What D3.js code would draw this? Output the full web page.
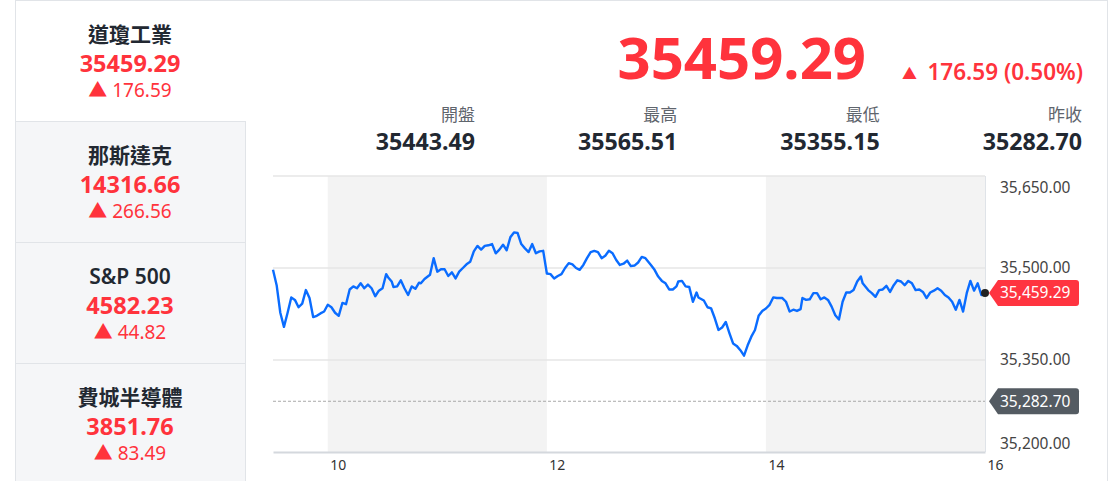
<!DOCTYPE html>
<html>
<head>
<meta charset="utf-8">
<script src="https://cdn.jsdelivr.net/npm/d3@7"></script>
<style>
  html, body { margin: 0; padding: 0; background: #fff; }
  svg { display: block; font-family: "Noto Sans", "Noto Sans CJK TC", sans-serif; }
</style>
</head>
<body>
<svg id="chart" width="1112" height="481"></svg>
<script>
// ---------- data ----------
const indexNames   = ["道瓊工業", "那斯達克", "S&P 500", "費城半導體"];
const indexValues  = ["35459.29", "14316.66", "4582.23", "3851.76"];
const indexChanges = ["176.59", "266.56", "44.82", "83.49"];

const lastPriceText = "35459.29";
const changeText    = "176.59 (0.50%)";
const statLabels = ["開盤", "最高", "最低", "昨收"];
const statValues = ["35443.49", "35565.51", "35355.15", "35282.70"];

const lastPrice = 35459.29;
const prevClose = 35282.70;

const yTicks = [35200, 35350, 35500, 35650];
const xTickHours = [10, 12, 14, 16];
const shadedBands = [["10:00", "12:00"], ["14:00", "16:00"]];

const times = [
 "09:30","09:32","09:34","09:36","09:38","09:40","09:42","09:44","09:46","09:48",
 "09:50","09:52","09:54","09:56","09:58","10:00","10:02","10:04","10:06","10:08",
 "10:10","10:12","10:14","10:16","10:18","10:20","10:22","10:24","10:26","10:28",
 "10:30","10:32","10:33","10:35","10:36","10:38","10:40","10:42","10:44","10:46",
 "10:48","10:50","10:51","10:53","10:56","10:58","11:00","11:02","11:04","11:06",
 "11:08","11:10","11:12","11:14","11:16","11:18","11:20","11:22","11:24","11:26",
 "11:28","11:30","11:32","11:34","11:36","11:38","11:40","11:42","11:44","11:46",
 "11:48","11:50","11:52","11:54","11:56","11:58","12:00","12:02","12:04","12:06",
 "12:08","12:10","12:12","12:14","12:16","12:18","12:20","12:22","12:24","12:26",
 "12:28","12:30","12:32","12:34","12:36","12:38","12:40","12:42","12:44","12:46",
 "12:48","12:50","12:52","12:54","12:57","12:59","13:01","13:03","13:05","13:07",
 "13:09","13:11","13:12","13:14","13:16","13:18","13:20","13:22","13:23","13:26",
 "13:28","13:30","13:32","13:34","13:36","13:38","13:40","13:42","13:44","13:46",
 "13:48","13:50","13:52","13:54","13:56","13:58","14:00","14:02","14:04","14:06",
 "14:09","14:11","14:13","14:15","14:17","14:19","14:20","14:22","14:24","14:26",
 "14:28","14:30","14:32","14:34","14:36","14:38","14:40","14:42","14:44","14:46",
 "14:48","14:50","14:52","14:53","14:56","14:58","15:00","15:02","15:04","15:06",
 "15:08","15:10","15:12","15:14","15:16","15:18","15:20","15:22","15:24","15:26",
 "15:28","15:30","15:32","15:34","15:36","15:38","15:40","15:42","15:44","15:46",
 "15:48","15:50","15:52","15:54","15:56","15:58","16:00"
];
const prices = [
 35497,35472,35427,35404,35427,35452,35448,35436,35442,35464,
 35451,35420,35422,35426,35429,35440,35436,35427,35422,35443,
 35441,35465,35470,35467,35475,35467,35473,35467,35454,35463,
 35467,35490,35485,35478,35469,35470,35480,35467,35456,35470,
 35466,35476,35475,35482,35489,35516,35494,35498,35498,35487,
 35493,35483,35494,35500,35506,35510,35527,35536,35530,35536,
 35537,35539,35524,35530,35538,35529,35550,35558,35557,35539,
 35532,35526,35539,35524,35527,35528,35491,35490,35483,35487,
 35490,35500,35508,35506,35500,35497,35505,35516,35526,35528,
 35526,35516,35520,35528,35524,35513,35505,35507,35512,35503,
 35504,35509,35518,35516,35505,35497,35486,35479,35475,35465,
 35465,35470,35478,35479,35470,35469,35445,35460,35452,35447,
 35436,35434,35418,35399,35403,35412,35394,35377,35373,35366,
 35357,35374,35388,35399,35422,35430,35434,35440,35452,35451,
 35451,35445,35429,35432,35430,35433,35451,35448,35449,35459,
 35459,35449,35452,35448,35437,35423,35416,35445,35460,35460,
 35464,35478,35486,35475,35464,35459,35453,35464,35465,35471,
 35461,35472,35480,35478,35472,35479,35475,35464,35465,35461,
 35451,35460,35463,35467,35463,35456,35452,35445,35432,35448,
 35429,35459,35479,35463,35475,35456,35459.29
];

// ---------- styles ----------
const RED = "#ff333c";
const DARK = "#222831";
const GREY_TXT = "#5f656d";
const BORDER = "#e1e4e8";

const svg = d3.select("#chart");
const parseT = d3.timeParse("%H:%M");

// ---------- outer frame ----------
svg.append("rect").attr("x", 15.5).attr("y", 0.5).attr("width", 1092).attr("height", 490)
  .attr("fill", "#fff").attr("stroke", BORDER);

// ---------- left panel ----------
const cardH = 121;
const cards = svg.append("g");
indexNames.forEach((name, i) => {
  const g = cards.append("g").attr("transform", `translate(0,${i * cardH})`);
  if (i > 0) {
    g.append("rect").attr("x", 15.5).attr("y", 0.5).attr("width", 230).attr("height", cardH)
      .attr("fill", "#f5f6f8").attr("stroke", BORDER);
  }
  g.append("text").attr("x", 130).attr("y", 42).attr("text-anchor", "middle")
    .attr("font-size", 21).attr("font-weight", 600).attr("fill", DARK).text(name);
  g.append("text").attr("x", 130).attr("y", 72).attr("text-anchor", "middle")
    .attr("font-size", 23.5).attr("font-weight", 700).attr("fill", RED).text(indexValues[i]);
  g.append("text").attr("x", 130).attr("y", 97).attr("text-anchor", "middle")
    .attr("font-size", 19).attr("fill", RED).text("▲ " + indexChanges[i]);
});

// ---------- header ----------
svg.append("text").attr("x", 866).attr("y", 79).attr("text-anchor", "end")
  .attr("font-size", 58).attr("font-weight", 700).attr("fill", RED).text(lastPriceText);
svg.append("text").attr("x", 1083).attr("y", 80).attr("text-anchor", "end")
  .attr("font-size", 22.5).attr("font-weight", 600).attr("fill", RED).text(changeText);
svg.append("text").attr("x", 902).attr("y", 79)
  .attr("font-size", 15).attr("fill", RED).text("▲");

const statX = d3.scalePoint().domain(statLabels).range([475, 1082]);
statLabels.forEach((lab, i) => {
  svg.append("text").attr("x", statX(lab)).attr("y", 121).attr("text-anchor", "end")
    .attr("font-size", 17).attr("fill", GREY_TXT).text(lab);
  svg.append("text").attr("x", statX(lab)).attr("y", 150).attr("text-anchor", "end")
    .attr("font-size", 23.2).attr("font-weight", 700).attr("fill", DARK).text(statValues[i]);
});

// ---------- chart ----------
const x = d3.scaleTime().domain([parseT("09:30"), parseT("16:00")]).range([273, 985]);
const y = d3.scaleLinear().domain([35200, 35650]).range([452, 176]);
const plot = svg.append("g");

shadedBands.forEach(([a, b]) => {
  plot.append("rect").attr("x", x(parseT(a))).attr("y", y(35650))
    .attr("width", x(parseT(b)) - x(parseT(a))).attr("height", y(35200) - y(35650))
    .attr("fill", "#f3f3f3");
});

// grid lines
plot.selectAll(".grid").data(yTicks.filter(v => v !== 35200)).join("line")
  .attr("x1", x.range()[0]).attr("x2", x.range()[1])
  .attr("y1", d => y(d)).attr("y2", d => y(d))
  .attr("stroke", "#e6e6e6").attr("stroke-width", 1.5);

// right border of plot
plot.append("line").attr("x1", 985.5).attr("x2", 985.5).attr("y1", y(35650)).attr("y2", y(35200))
  .attr("stroke", "#dfe3e8").attr("stroke-width", 1);

// prev close dashed line
plot.append("line").attr("x1", x.range()[0]).attr("x2", x.range()[1])
  .attr("y1", y(prevClose)).attr("y2", y(prevClose))
  .attr("stroke", "#a9a9a9").attr("stroke-width", 1).attr("stroke-dasharray", "3,2");

// x axis
const xAxis = d3.axisBottom(x)
  .tickValues(xTickHours.map(h => parseT(String(h).padStart(2, "0") + ":00")))
  .tickFormat(d3.timeFormat("%-H")).tickSize(0).tickPadding(0);
const gx = svg.append("g").attr("transform", `translate(0,${y(35200)})`).call(xAxis);
gx.select(".domain").attr("stroke", "#d4d8dd").attr("stroke-width", 2);
gx.selectAll("text").attr("text-anchor", "start").attr("dx", 2).attr("dy", 18)
  .attr("font-size", 14).attr("fill", "#333").attr("font-family", "'Noto Sans', sans-serif");

// y axis
const yAxis = d3.axisRight(y).tickValues(yTicks).tickFormat(d3.format(",.2f")).tickSize(0).tickPadding(15);
const gy = svg.append("g").attr("transform", `translate(985,0)`).call(yAxis);
gy.select(".domain").remove();
gy.selectAll("text").attr("font-size", 15.5).attr("fill", "#444")
  .attr("font-family", "'Noto Sans', sans-serif")
  .attr("dy", d => d === 35650 ? "1.05em" : d === 35200 ? "-0.25em" : "0.32em");

// price line
const line = d3.line().x((d, i) => x(parseT(times[i]))).y(d => y(d));
plot.append("path").datum(prices).attr("d", line)
  .attr("fill", "none").attr("stroke", "#0a6cff").attr("stroke-width", 2.4)
  .attr("stroke-linejoin", "round");

// tags
function tag(val, color, label) {
  const yc = y(val), x0 = 989, x1 = 1079, h = 26, r = 3;
  const p = d3.path();
  p.moveTo(x0, yc);
  p.lineTo(x0 + 9, yc - h / 2);
  p.lineTo(x1 - r, yc - h / 2);
  p.arcTo(x1, yc - h / 2, x1, yc - h / 2 + r, r);
  p.lineTo(x1, yc + h / 2 - r);
  p.arcTo(x1, yc + h / 2, x1 - r, yc + h / 2, r);
  p.lineTo(x0 + 9, yc + h / 2);
  p.closePath();
  svg.append("path").attr("d", p.toString()).attr("fill", color);
  svg.append("text").attr("x", 1000).attr("y", yc).attr("dy", "0.35em")
    .attr("font-size", 15.5).attr("fill", "#fff").text(label);
}
tag(lastPrice, "#ff3440", d3.format(",.2f")(lastPrice));
tag(prevClose, "#545b62", d3.format(",.2f")(prevClose));

// last point dot
svg.append("circle").attr("cx", x(parseT(times[times.length - 1]))).attr("cy", y(lastPrice))
  .attr("r", 4).attr("fill", "#222");
</script>
</body>
</html>
